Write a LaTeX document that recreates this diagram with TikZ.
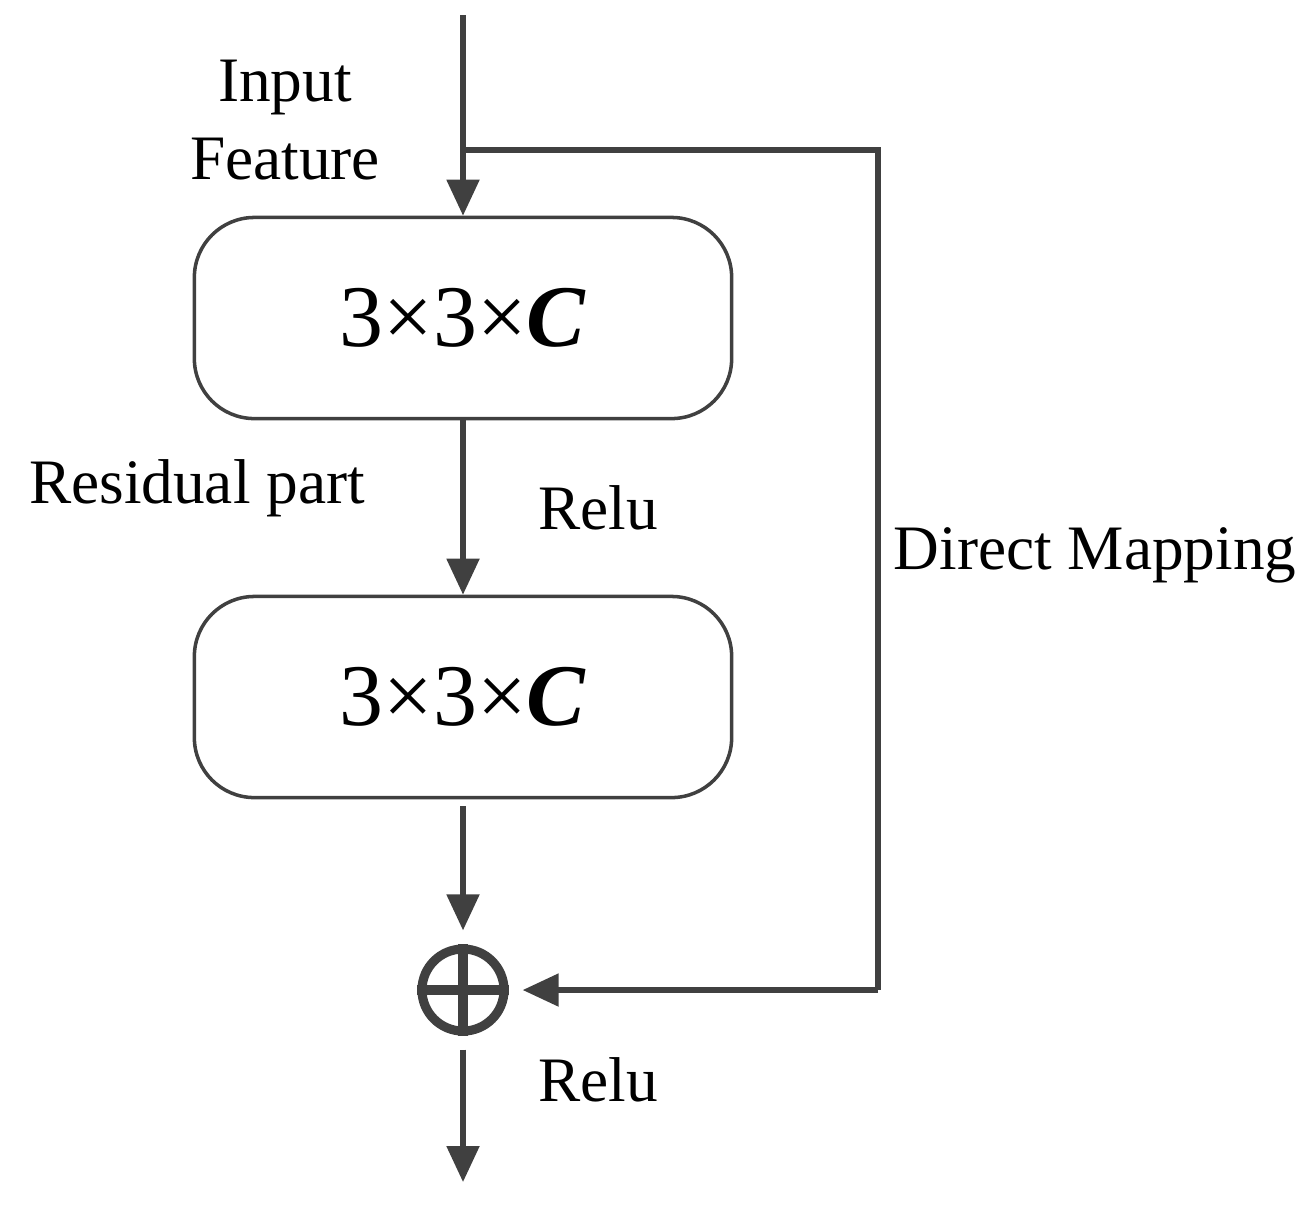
\documentclass[tikz,border=0pt]{standalone}
\usepackage{fontspec}
\setmainfont{Liberation Serif}
\usetikzlibrary{arrows.meta}
\definecolor{linegray}{HTML}{404040}
\begin{document}
\begin{tikzpicture}[x=0.01cm,y=-0.01cm,
    flow/.style={draw=linegray, line width=1.5pt, -{Triangle[length=3.6mm,width=3.2mm]}},
    block/.style={draw=linegray, line width=1pt, rounded corners=0.6cm, minimum width=5.37cm, minimum height=2.01cm, font=\fontsize{25}{28}\selectfont},
    label/.style={font=\fontsize{18}{22}\selectfont, align=center}]
    \useasboundingbox (0,0) rectangle (1313,1211);

    \coordinate (top) at (463,15);
    \coordinate (split) at (463,150);
    \coordinate (corner1) at (878,150);
    \coordinate (corner2) at (878,990);
    \coordinate (out) at (463,1182);

    \node[block] (conv1) at (463,318) {3×3×\textbf{\textit{C}}};
    \node[block] (conv2) at (463,697) {3×3×\textbf{\textit{C}}};
    \node[circle, draw=linegray, line width=2.6pt, minimum size=0.82cm, inner sep=0pt] (sum) at (463,990) {};
    \draw[linegray, line width=2.6pt] (sum.north) -- (sum.south) (sum.west) -- (sum.east);

    \draw[flow] (top) -- (conv1.north);
    \draw[draw=linegray, line width=1.5pt] (split) -- (corner1) -- (corner2);
    \draw[flow] (corner2) -- ([xshift=4pt]sum.east);
    \draw[flow] (conv1.south) -- (conv2.north);
    \draw[flow] ([yshift=-2pt]conv2.south) -- ([yshift=4pt]sum.north);
    \draw[flow] ([yshift=-4pt]sum.south) -- (out);

    \node[label] (input) at (285,120) {Input\\Feature};
    \node[label] (resid) at (197,488) {Residual part};
    \node[label] (relu1) at (598,508) {Relu};
    \node[label] (direct) at (1095,555) {Direct Mapping};
    \node[label] (relu2) at (598,1080) {Relu};
\end{tikzpicture}
\end{document}
